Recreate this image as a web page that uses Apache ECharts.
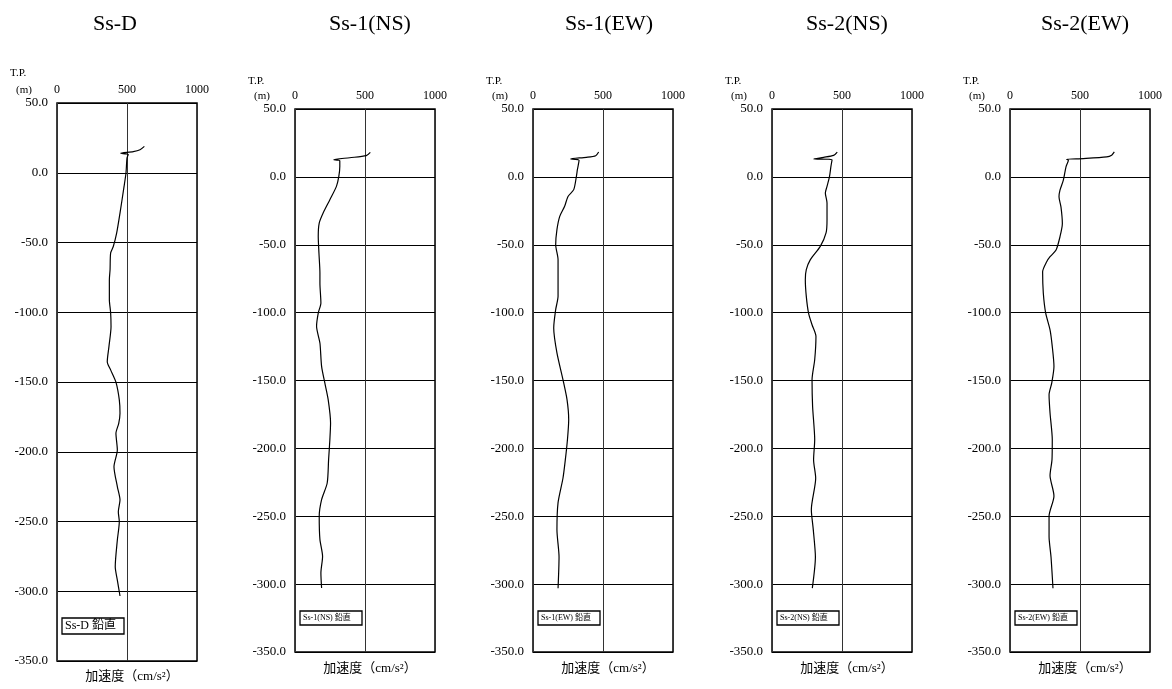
<!DOCTYPE html>
<html><head><meta charset="utf-8">
<script src="https://cdn.jsdelivr.net/npm/echarts@6/dist/echarts.min.js"></script>
<style>html,body{margin:0;padding:0;background:#fff}#c{width:1172px;height:689px}</style>
</head><body><div id="c"></div>
<script>
// ---- data ----
const panelTitles = ['Ss-D', 'Ss-1(NS)', 'Ss-1(EW)', 'Ss-2(NS)', 'Ss-2(EW)'];
const legendLabels = ['Ss-D 鉛直', 'Ss-1(NS) 鉛直', 'Ss-1(EW) 鉛直', 'Ss-2(NS) 鉛直', 'Ss-2(EW) 鉛直'];
const xAxisName = '加速度（cm/s²）';
const yAxisNameTop = 'T.P.';
const yAxisNameUnit = '(m)';
const xMin = 0, xMax = 1000, xStep = 500;
const yMin = -350, yMax = 50, yStep = 50;

const ssD_depth = [18.9, 16.5, 15.1, 13.9, 13.1, 10.5, 0, -9.8, -28.9, -43.3, -52.9, -57.6, -69.5, -76.8, -91, -100.2, -110.3, -124.6, -135.4, -141.3, -150.1, -162.8, -172.4, -179.6, -186.8, -198.7, -210.7, -225, -234.6, -243, -250.1, -263.3, -282.4, -292, -303.4];
const ssD_accel = [624, 593, 545, 455, 509, 500, 493, 479, 450, 426, 402, 383, 379, 374, 374, 383, 386, 371, 359, 383, 421, 445, 450, 441, 421, 431, 407, 431, 450, 438, 445, 431, 416, 431, 450];

const ss1NS_depth = [18, 15.6, 14.1, 12.7, 11.9, 7.7, 0.4, -7, -16.8, -26.6, -34, -43.8, -56.1, -70.8, -78.2, -92.9, -100.3, -110.1, -122.4, -139.6, -151.8, -164.1, -181.3, -193.6, -208.3, -225.5, -237.8, -250.1, -267, -279.6, -291.8, -302.9];
const ss1NS_accel = [538, 509, 391, 277, 320, 320, 313, 296, 249, 201, 173, 166, 171, 178, 178, 185, 166, 154, 178, 190, 213, 237, 254, 249, 240, 230, 190, 173, 178, 197, 185, 190];

const ss1EW_depth = [18.3, 15.6, 14.4, 13.2, 12.2, 5.3, 0.4, -9.4, -14.4, -21.7, -29.1, -38.9, -50, -61, -75.7, -88, -97.8, -111.3, -129.7, -149.4, -164.1, -178.9, -193.6, -208.3, -222, -240, -260, -280, -303];
const ss1EW_accel = [469, 448, 381, 269, 329, 317, 310, 291, 250, 226, 191, 171, 162, 179, 179, 179, 162, 148, 171, 214, 243, 255, 246, 231, 214, 179, 171, 186, 179];

const ss2NS_depth = [18.3, 15.8, 14.4, 13.2, 12.7, 7.7, 0.4, -7, -11.9, -19.2, -31.5, -41.3, -51.2, -61, -68.4, -75.7, -88, -100.3, -108.9, -117.5, -134.7, -149.4, -169.1, -193.6, -208.3, -222, -245, -260, -280, -303];
const ss2NS_accel = [466, 440, 369, 297, 429, 421, 411, 393, 381, 393, 393, 386, 345, 274, 245, 238, 245, 261, 286, 314, 305, 286, 290, 305, 297, 312, 281, 295, 310, 288];

const ss2EW_depth = [18.4, 16, 14.7, 13.5, 13, 12.3, 7.4, -2.4, -9.8, -14.7, -22.1, -34.3, -44.1, -53.9, -58.8, -62.5, -69.9, -85.7, -100.4, -112.7, -125, -139.7, -151.9, -160.5, -174, -193.6, -208.3, -220, -235, -250, -265, -280, -303];
const ss2EW_accel = [745, 726, 691, 524, 405, 417, 400, 381, 357, 350, 364, 374, 357, 329, 286, 262, 233, 238, 255, 286, 302, 314, 298, 279, 286, 302, 300, 286, 314, 279, 279, 293, 307];

const seriesDepth = [ssD_depth, ss1NS_depth, ss1EW_depth, ss2NS_depth, ss2EW_depth];
const seriesAccel = [ssD_accel, ss1NS_accel, ss1EW_accel, ss2NS_accel, ss2EW_accel];

// ---- layout ----
const SERIF = '"Liberation Serif", "DejaVu Serif", "Noto Sans CJK JP", serif';
const grids = [
  {left: 57, top: 103, width: 140, height: 558},
  {left: 295, top: 109, width: 140, height: 543},
  {left: 533, top: 109, width: 140, height: 543},
  {left: 772, top: 109, width: 140, height: 543},
  {left: 1010, top: 109, width: 140, height: 543}
];
const titleCenters = [110, 365, 604, 842, 1080];

const chart = echarts.init(document.getElementById('c'));
const option = {
  backgroundColor: '#fff',
  animation: false,
  title: panelTitles.map((t, i) => ({
    text: t, left: titleCenters[i], top: 8, textAlign: 'center',
    textStyle: {fontFamily: SERIF, fontSize: 22, fontWeight: 'normal', color: '#000'}
  })),
  grid: grids.map(g => Object.assign({show: true, borderColor: '#000', borderWidth: 1.5, backgroundColor: 'transparent', containLabel: false}, g)),
  xAxis: grids.map((g, i) => ({
    gridIndex: i, type: 'value', position: 'top', min: xMin, max: xMax, interval: xStep,
    axisLine: {show: false}, axisTick: {show: false},
    axisLabel: {margin: 7, fontSize: 12, color: '#000', fontFamily: SERIF, formatter: v => String(v)},
    splitLine: {show: true, lineStyle: {color: '#333', width: 1}}
  })),
  yAxis: grids.map((g, i) => ({
    gridIndex: i, type: 'value', min: yMin, max: yMax, interval: yStep,
    axisLine: {show: false}, axisTick: {show: false},
    axisLabel: {margin: 9, fontSize: 13, color: '#000', fontFamily: SERIF, formatter: v => v.toFixed(1)},
    splitLine: {show: true, lineStyle: {color: '#000', width: 1}}
  })),
  series: seriesDepth.map((d, i) => ({
    type: 'line', xAxisIndex: i, yAxisIndex: i,
    data: d.map((y, k) => [seriesAccel[i][k], y]),
    showSymbol: false, symbol: 'none', smooth: 0.25,
    lineStyle: {color: '#000', width: 1.2}, z: 5
  })),
  graphic: []
};

grids.forEach((g, i) => {
  const first = i === 0;
  option.graphic.push({type: 'text', left: g.left - 47, top: first ? 68 : 76,
    style: {text: yAxisNameTop, font: '11px ' + SERIF, fill: '#000'}});
  option.graphic.push({type: 'text', left: g.left - 41, top: first ? 85 : 91,
    style: {text: yAxisNameUnit, font: '11px ' + SERIF, fill: '#000'}});
  option.graphic.push({type: 'text', x: g.left + g.width / 2 + 5, y: g.top + g.height + (first ? 16 : 17),
    style: {text: xAxisName, font: '13px ' + SERIF, fill: '#000', align: 'center', verticalAlign: 'middle'}});
  const bh = first ? 16 : 14, by = first ? 618 : 611;
  option.graphic.push({type: 'rect', shape: {x: g.left + 5, y: by, width: 62, height: bh},
    style: {fill: '#fff', stroke: '#000', lineWidth: 1.3}, z: 10});
  option.graphic.push({type: 'text', x: g.left + 8, y: by + bh / 2,
    style: {text: legendLabels[i], font: (first ? '12px ' : '8px ') + SERIF, fill: '#000', verticalAlign: 'middle'}, z: 11});
});

chart.setOption(option);
</script>
</body></html>
